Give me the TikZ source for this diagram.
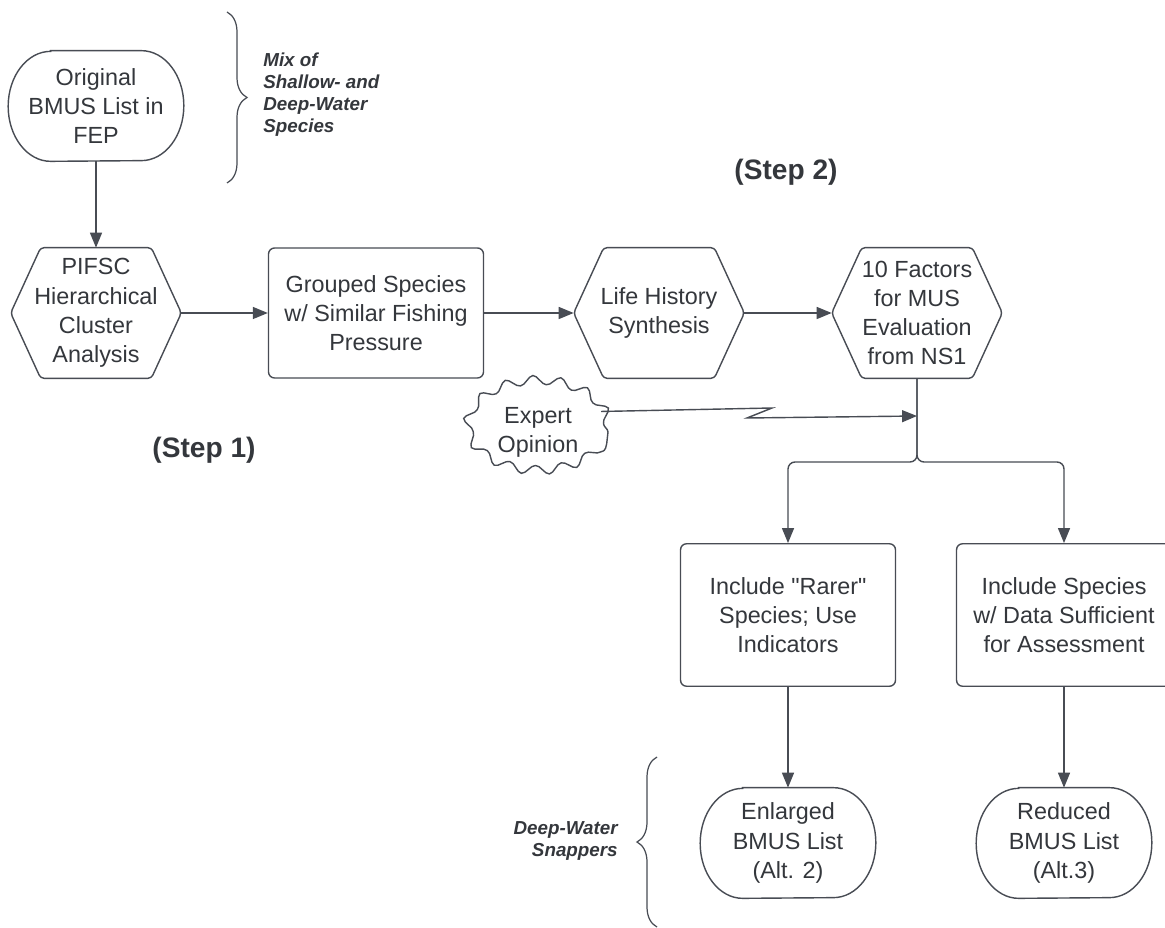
\documentclass[tikz,border=0pt]{standalone}
\usepackage{fontspec}
\setmainfont{Liberation Sans}
\usepackage{tikz}
\usetikzlibrary{arrows.meta,shapes.geometric,decorations.pathmorphing,decorations.pathreplacing}
\definecolor{linegray}{RGB}{72, 76, 84}
\definecolor{txtgray}{RGB}{52, 55, 60}

\tikzset{
  base/.style     = {font=\fontsize{13.3}{16.6}\selectfont, text=txtgray, align=center, inner sep=0pt},
  procbox/.style  = {base, draw=linegray, line width=0.8pt, rounded corners=0.12cm,
                     minimum width=4.3cm, minimum height=2.6cm},
  hexnode/.style  = {base, minimum width=3.4cm, minimum height=2.6cm},
  termnode/.style = {base, minimum width=3.5cm, minimum height=2.2cm},
  wavynode/.style = {base, ellipse, draw=linegray, line width=0.8pt, decorate,
                     decoration={snake, amplitude=0.09cm, segment length=0.54cm},
                     minimum width=2.8cm, minimum height=1.8cm},
  outline/.style  = {draw=linegray, line width=0.8pt},
  flow/.style     = {outline, -{Triangle[length=8.5pt, width=6.8pt]}},
  note/.style     = {font=\fontsize{10.7}{12.5}\selectfont\bfseries\itshape, text=txtgray, inner sep=0pt},
  steplabel/.style= {font=\fontsize{16}{19}\selectfont\bfseries, text=txtgray},
  curly/.style    = {draw=linegray, line width=0.7pt, decorate,
                     decoration={brace, amplitude=0.4cm}}
}

\begin{document}
\begin{tikzpicture}[x=0.02cm, y=-0.02cm]
  \clip (0,0) rectangle (1165,928);
  \fill[white] (0,0) rectangle (1165,928);

  % step 1 chain
  \node[termnode] (orig)    at (96,106)  {Original\\BMUS List in\\FEP};
  \node[hexnode]  (pifsc)   at (96,313)  {PIFSC\\Hierarchical\\Cluster\\Analysis};
  \node[procbox]  (grouped) at (376,313) {Grouped Species\\w/ Similar Fishing\\Pressure};
  \node[hexnode]  (life)    at (659,313) {Life History\\Synthesis};
  \node[hexnode]  (factors) at (917,313) {10 Factors\\for MUS\\Evaluation\\from NS1};
  \node[wavynode] (expert)  at (538,432) {Expert\\Opinion};

  % alternatives
  \node[procbox, minimum height=2.85cm] (rarer)   at (788,615)  {Include \textquotedbl Rarer\textquotedbl\\Species; Use\\Indicators};
  \node[procbox, minimum height=2.85cm] (species) at (1064,615) {Include Species\\w/ Data Sufficient\\for Assessment};
  \node[termnode] (enlarged) at (788,843)  {Enlarged\\BMUS List\\(Alt. 2)};
  \node[termnode] (reduced)  at (1064,843) {Reduced\\BMUS List\\(Alt.3)};

  % labels
  \node[steplabel] (step1) at (204,450) {(Step 1)};
  \node[steplabel] (step2) at (786,172) {(Step 2)};
  \node[note, align=left, anchor=west]  (mixnote)  at (263,95)  {Mix of\\Shallow- and\\Deep-Water\\Species};
  \node[note, align=right, anchor=east] (deepnote) at (618,841) {Deep-Water\\Snappers};

  % hexagon outlines
  \foreach \n in {pifsc,life,factors}
    \draw[outline, rounded corners=2pt] (\n.west) -- ([xshift=0.6cm]\n.north west)
      -- ([xshift=-0.6cm]\n.north east) -- (\n.east)
      -- ([xshift=-0.6cm]\n.south east) -- ([xshift=0.6cm]\n.south west) -- cycle;

  % terminal outlines
  \foreach \n in {orig,enlarged,reduced}
    \draw[outline] ([xshift=0.85cm]\n.north west) -- ([xshift=-0.85cm]\n.north east)
      arc[start angle=90, end angle=-90, x radius=0.85cm, y radius=1.1cm]
      -- ([xshift=0.85cm]\n.south west)
      arc[start angle=270, end angle=90, x radius=0.85cm, y radius=1.1cm] -- cycle;

  % braces
  \draw[curly] (227,12) -- (227,183);
  \draw[curly] (657,927) -- (657,757);

  % connectors
  \coordinate (split) at (917,462);
  \coordinate (merge) at (917,416);
  \coordinate (zig1)  at (772,408);
  \coordinate (zig2)  at (747,418);

  \draw[flow] (orig.south) -- (pifsc.north);
  \draw[flow] (pifsc.east) -- (grouped.west);
  \draw[flow] (grouped.east) -- (life.west);
  \draw[flow] (life.east) -- (factors.west);
  \draw[flow] (expert.18) -- (zig1) -- (zig2) -- (merge);
  \draw[flow, rounded corners=4pt] (factors.south) |- (rarer.north |- split) -- (rarer.north);
  \draw[flow, rounded corners=4pt] (factors.south) |- (species.north |- split) -- (species.north);
  \draw[flow] (rarer.south) -- (enlarged.north);
  \draw[flow] (species.south) -- (reduced.north);
\end{tikzpicture}
\end{document}
